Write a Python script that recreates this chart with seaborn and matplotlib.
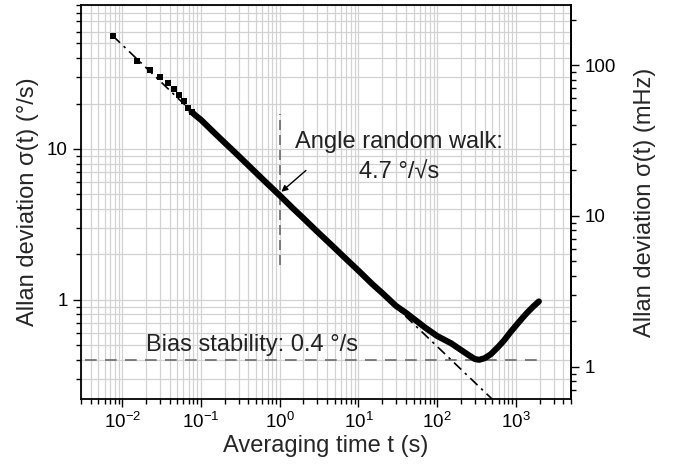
import matplotlib
matplotlib.use("Agg")
import matplotlib.pyplot as plt
import seaborn as sns
from matplotlib.ticker import FixedLocator, FuncFormatter, NullFormatter

# first (sparse) points, tau = n * tau0
tau_start = [0.0076, 0.0152, 0.0228, 0.0304, 0.038, 0.0456, 0.0532, 0.0608, 0.0684, 0.076]
sigma_start = [56.1, 38.2, 33.3, 29.8, 27.4, 25.0, 22.8, 20.7, 18.8, 17.6]

# dense part of the Allan deviation curve
tau_dense = [0.076, 0.085, 0.1, 0.15, 0.2, 0.3, 0.5, 0.7, 1, 1.5, 2, 3, 5, 7, 10, 15, 20,
             30, 40, 50, 70, 100, 150, 200, 250, 300, 340, 400, 480, 600, 700, 850,
             1000, 1200, 1400, 1650, 1950]
sigma_dense = [17.6, 16.7, 15.6, 12.7, 11.0, 9.0, 6.95, 5.87, 4.92, 4.0, 3.47, 2.83, 2.2,
               1.86, 1.56, 1.27, 1.11, 0.91, 0.82, 0.75, 0.655, 0.575, 0.515, 0.465,
               0.43, 0.405, 0.40, 0.41, 0.436, 0.49, 0.535, 0.61, 0.675, 0.755, 0.826,
               0.9, 0.975]

# angle random walk fit (slope -1/2) end points
tau_fit = [0.0076, 600]
sigma_fit = [56.2, 0.2]

# bias stability level and the ARW marker at tau = 1
bias_tau = [0.0034, 1950]
bias_sigma = [0.4, 0.4]
arw_tau = [1, 1]
arw_sigma = [1.7, 17]

# tick values
x_major = [1e-2, 1e-1, 1, 10, 100, 1000]
y_major = [1, 10]
y2_major = [1, 10, 100]

MHZ_PER_DEG = 1000 / 360


def minor_ticks(lo, hi):
    out = []
    dec = 1e-4
    while dec < 1e5:
        for m in range(2, 10):
            v = m * dec
            if lo <= v <= hi:
                out.append(v)
        dec *= 10
    return out


sns.set_theme(style="ticks")
plt.rcParams["font.family"] = ["Liberation Sans", "DejaVu Sans"]
plt.rcParams["mathtext.fontset"] = "custom"
plt.rcParams["mathtext.rm"] = "Liberation Sans"
plt.rcParams["mathtext.it"] = "Liberation Sans:italic"
plt.rcParams["mathtext.bf"] = "Liberation Sans:bold"
plt.rcParams["axes.unicode_minus"] = False
plt.rcParams["axes.edgecolor"] = "black"
plt.rcParams["xtick.color"] = "black"
plt.rcParams["ytick.color"] = "black"

fig = plt.figure(figsize=(6.75, 4.66), dpi=100)
ax = fig.add_axes([0.12, 0.1438, 0.726, 0.8455])

ax.set_xscale("log")
ax.set_yscale("log")
ax.set_xlim(0.003, 5000)
ax.set_ylim(0.22, 90)

ax.grid(True, which="both", color="#d2d2d2", lw=0.9)
ax.set_axisbelow(True)

ax.plot(bias_tau, bias_sigma, color="#6a6a6a", lw=1.2, ls=(0, (7, 5)), zorder=2)
ax.plot(arw_tau, arw_sigma, color="#6a6a6a", lw=1.2, ls=(0, (6, 3)), zorder=2)
ax.plot(tau_fit, sigma_fit, color="black", lw=1.2, ls=(0, (6, 3, 1.5, 3)), zorder=2)

sns.lineplot(x=tau_dense, y=sigma_dense, ax=ax, color="black", lw=4.4,
             estimator=None, sort=False, zorder=3)
sns.scatterplot(x=tau_start, y=sigma_start, ax=ax, marker="s", s=15, color="black",
                linewidth=0, zorder=3)

ax.xaxis.set_major_locator(FixedLocator(x_major))
ax.xaxis.set_minor_locator(FixedLocator(minor_ticks(0.003, 5000)))
ax.xaxis.set_major_formatter(FuncFormatter(
    lambda v, _: "$\\mathdefault{10^{%d}}$" % round(__import__("math").log10(v))))
ax.xaxis.set_minor_formatter(NullFormatter())
ax.yaxis.set_major_locator(FixedLocator(y_major))
ax.yaxis.set_minor_locator(FixedLocator(minor_ticks(0.22, 90)))
ax.yaxis.set_major_formatter(FuncFormatter(lambda v, _: f"{v:g}"))
ax.yaxis.set_minor_formatter(NullFormatter())

ax.tick_params(which="major", length=6, width=1, direction="out", labelsize=13.5,
               top=False, right=False)
ax.tick_params(which="minor", length=3.5, width=1, direction="out",
               top=False, right=False)
for s in ax.spines.values():
    s.set_linewidth(1.3)
    s.set_visible(True)

sec = ax.secondary_yaxis("right", functions=(lambda v: v * MHZ_PER_DEG,
                                               lambda v: v / MHZ_PER_DEG))
sec.set_yscale("log")
sec.yaxis.set_major_locator(FixedLocator(y2_major))
sec.yaxis.set_minor_locator(FixedLocator(minor_ticks(0.22 * MHZ_PER_DEG, 90 * MHZ_PER_DEG)))
sec.yaxis.set_major_formatter(FuncFormatter(lambda v, _: f"{v:g}"))
sec.yaxis.set_minor_formatter(NullFormatter())
sec.tick_params(which="major", length=6, width=1, direction="out", labelsize=13.5)
sec.tick_params(which="minor", length=3.5, width=1, direction="out")
sec.spines["right"].set_linewidth(1.3)
sec.set_ylabel("Allan deviation σ(t) (mHz)", fontsize=17, labelpad=13)

ax.set_xlabel("Averaging time t (s)", fontsize=17, labelpad=2)
ax.set_ylabel("Allan deviation σ(t) (°/s)", fontsize=17, labelpad=6)

ax.text(33, 10.1, "Angle random walk:", fontsize=17, ha="center", va="baseline",
        color="#222222")
ax.text(33, 6.38, "4.7 °/√s", fontsize=17, ha="center", va="baseline",
        color="#222222")
ax.text(0.0202, 0.459, "Bias stability: 0.4 °/s", fontsize=17, ha="left",
        va="baseline", color="#222222")
ax.annotate("", xy=(1.05, 5.2), xytext=(2.15, 7.2),
            arrowprops=dict(arrowstyle="-|>", color="black", lw=1,
                            mutation_scale=9, shrinkA=0, shrinkB=0))

fig.savefig("out.png", dpi=100)
